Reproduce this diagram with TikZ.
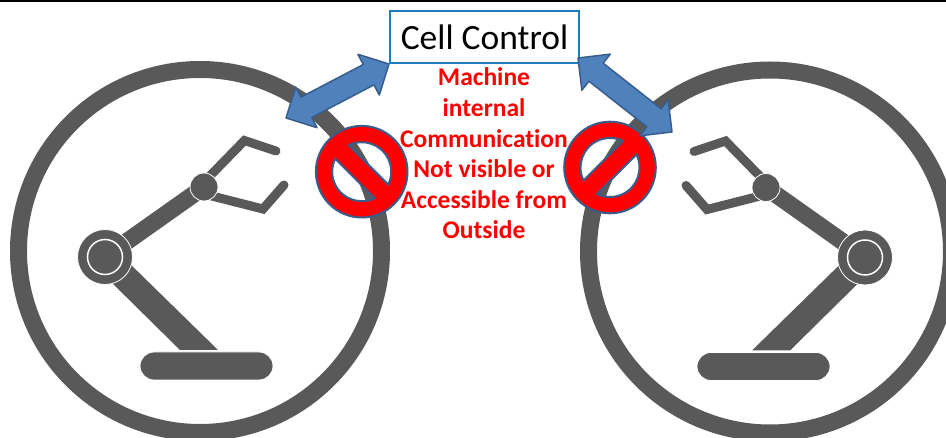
\documentclass[tikz,border=0pt]{standalone}
\usepackage{fontspec}
\setmainfont[Ligatures=NoCommon]{Carlito}
\usetikzlibrary{calc}
\definecolor{robotgray}{HTML}{595959}
\definecolor{cellblue}{HTML}{1F7CBF}
\definecolor{linkfill}{HTML}{4F81BD}
\definecolor{linkline}{HTML}{385D8A}
\tikzset{
	robotpart/.style={fill=robotgray, draw=white, line width=0.8},
	robotline/.style={draw=robotgray, line cap=round, miter limit=10},
	cellbox/.style={draw=cellblue, fill=white, line width=2, minimum width=189, minimum height=52, inner sep=0, font=\fontsize{35.5}{38}\selectfont},
	linkarrow/.style={fill=linkfill, draw=linkline, line width=1.5, line join=round},
	nosign/.style={fill=red, draw=linkline, line width=2, even odd rule},
	warntext/.style={text=red, align=center, inner sep=0, font=\fontsize{25.5}{30.6}\selectfont\bfseries}
}
\newcommand{\robot} % drawn on the left, mirror it with a scope
{
	% ring
	\draw[robotgray, line width=17] (200,251) circle (181.5);
	% gripper
	\draw[robotline, line width=9] (204,182) -- (244.5,140.5) -- (276,151);
	\draw[robotline, line width=9] (204,194) -- (263,209) -- (284,185);
	% arms
	\draw[robotgray, line width=17] (105,257) -- (204,187);
	\fill[robotgray] (126,260) -- (108,279) -- (180,350) -- (218,350) -- cycle;
	% joints
	\draw[robotpart] (105,257) circle (27.5);
	\draw[white, line width=1.5] (105,257) circle (17.5);
	\draw[robotpart] (204,187) circle (14);
	% base
	\draw[robotpart, rounded corners=14] (140,352) rectangle (273,380);
}
\newcommand{\forbid}[3] % x, y, angle of bar
{
	\begin{scope}[shift={(#1,#2)}, rotate=#3]
		\draw[nosign] (0,0) circle (45.8)
			(19:29.5) arc (19:161:29.5) -- cycle
			(199:29.5) arc (199:341:29.5) -- cycle;
	\end{scope}
}
\newcommand{\biglink}[2] % tip, tip
{
	\coordinate (heada) at ($(#1)!23pt!(#2)$);
	\coordinate (headb) at ($(#2)!23pt!(#1)$);
	\draw[linkarrow] (#1) -- ($(heada)!23pt!90:(#2)$) -- ($(heada)!11.5pt!90:(#2)$)
		-- ($(headb)!11.5pt!-90:(#1)$) -- ($(headb)!23pt!-90:(#1)$) -- (#2)
		-- ($(headb)!23pt!90:(#1)$) -- ($(headb)!11.5pt!90:(#1)$)
		-- ($(heada)!11.5pt!-90:(#2)$) -- ($(heada)!23pt!-90:(#2)$) -- cycle;
}
\begin{document}
\begin{tikzpicture}[x=1pt, y=-1pt]
	% 946 x 438, one unit is one pixel
	\path[use as bounding box, clip] (0,0) rectangle (946,438);
	\fill[white] (0,0) rectangle (946,438);
	\draw[black, line width=2.5] (0,0.5) -- (946,0.5);

	\robot
	\begin{scope}[shift={(970,0.5)}, xscale=-1]
		\robot
	\end{scope}

	\forbid{361.7}{171.7}{-45};
	\forbid{610}{167.5}{45};

	\node[cellbox] (cell) at (484.5,37) {Cell Control};

	\coordinate (leftend) at (286,118);
	\coordinate (rightend) at (672,132);
	\coordinate (cellleft) at (cell.south west);
	\coordinate (cellright) at ($(cell.south east)+(-2,-6)$);
	\biglink{leftend}{cellleft};
	\biglink{cellright}{rightend};

	\node[warntext] (warning) at (484,153.5) {Machine\\internal\\Communication\\Not visible or\\Accessible from\\Outside};
\end{tikzpicture}
\end{document}
